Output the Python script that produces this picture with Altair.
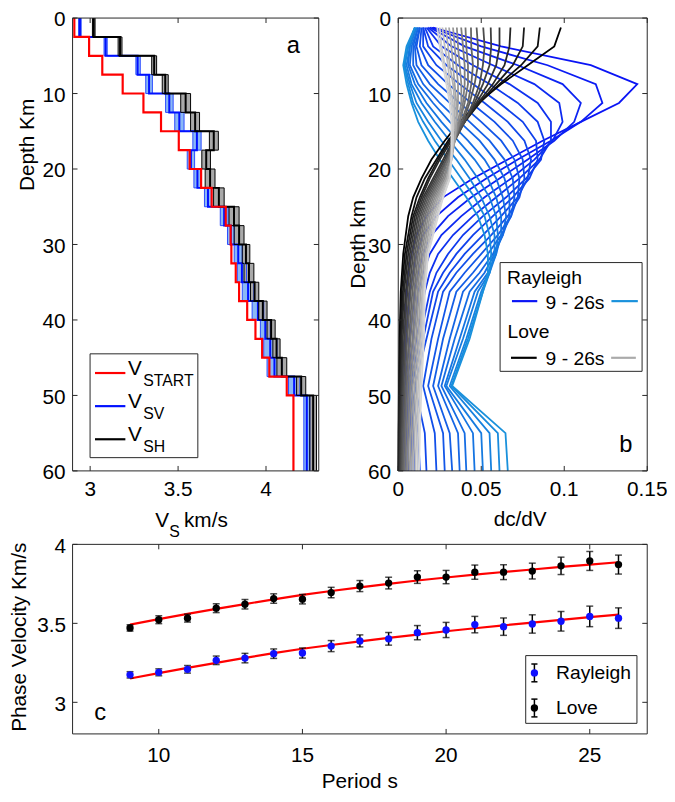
import altair as alt
import pandas as pd

FONT = "Liberation Sans"
AXC = "#262626"

# ---------------- Panel a : velocity profiles ----------------
LAYER_TOP = [0.0, 2.5, 5.0, 7.5, 10.0, 12.5, 15.0, 17.5, 20.0, 22.5, 25.0,
             27.5, 30.0, 32.5, 35.0, 37.5, 40.0, 42.5, 45.0, 47.5, 50.0]
LAYER_BOT = [2.5, 5.0, 7.5, 10.0, 12.5, 15.0, 17.5, 20.0, 22.5, 25.0, 27.5,
             30.0, 32.5, 35.0, 37.5, 40.0, 42.5, 45.0, 47.5, 50.0, 60.0]
V_START = [2.91, 2.994, 3.069, 3.185, 3.303, 3.403, 3.504, 3.566, 3.631, 3.691, 3.771,
           3.799, 3.803, 3.828, 3.847, 3.893, 3.94, 3.978, 4.019, 4.118, 4.156]
SV_MIN = [2.934, 3.079, 3.26, 3.316, 3.429, 3.481, 3.584, 3.552, 3.59, 3.65, 3.74,
          3.781, 3.819, 3.837, 3.865, 3.921, 3.968, 3.987, 4.006, 4.128, 4.215]
SV_MAX = [2.949, 3.097, 3.285, 3.354, 3.472, 3.534, 3.631, 3.594, 3.631, 3.691, 3.785,
          3.819, 3.865, 3.889, 3.931, 3.987, 4.024, 4.062, 4.09, 4.193, 4.249]
SV_BEST = [2.942, 3.088, 3.27, 3.335, 3.45, 3.507, 3.607, 3.573, 3.61, 3.67, 3.762,
           3.8, 3.842, 3.863, 3.898, 3.954, 3.996, 4.024, 4.048, 4.16, 4.232]
SH_MIN = [3.013, 3.159, 3.35, 3.41, 3.515, 3.571, 3.678, 3.635, 3.654, 3.702, 3.79,
          3.819, 3.865, 3.875, 3.912, 3.959, 4.006, 4.039, 4.062, 4.174, 4.249]
SH_MAX = [3.028, 3.181, 3.378, 3.444, 3.571, 3.622, 3.729, 3.684, 3.71, 3.762, 3.847,
          3.875, 3.908, 3.931, 3.959, 4.006, 4.052, 4.08, 4.118, 4.226, 4.287]
SH_BEST = [3.02, 3.17, 3.364, 3.427, 3.543, 3.597, 3.703, 3.66, 3.682, 3.732, 3.818,
           3.847, 3.886, 3.903, 3.935, 3.982, 4.029, 4.06, 4.09, 4.2, 4.268]

# ---------------- Panel b : sensitivity kernels ----------------
PERIODS = list(range(9, 27))
R_DEPTH = [1.25, 3.75, 6.25, 8.75, 11.25, 13.75, 16.25, 18.75, 21.25, 23.75,
           26.25, 28.75, 31.25, 33.75, 36.25, 42.5, 48.75, 55, 60]
RAYLEIGH_K = [
    [0.021, 0.062, 0.116, 0.144, 0.133, 0.110, 0.087, 0.066, 0.045, 0.027, 0.017, 0.011, 0.008, 0.006, 0.005, 0.004, 0.002, 0.003, 0.002],
    [0.020, 0.050, 0.090, 0.119, 0.123, 0.110, 0.092, 0.072, 0.053, 0.036, 0.023, 0.015, 0.011, 0.009, 0.007, 0.005, 0.003, 0.004, 0.003],
    [0.019, 0.040, 0.072, 0.099, 0.110, 0.106, 0.094, 0.078, 0.061, 0.044, 0.030, 0.020, 0.015, 0.012, 0.010, 0.007, 0.004, 0.005, 0.004],
    [0.018, 0.032, 0.057, 0.082, 0.097, 0.099, 0.093, 0.082, 0.068, 0.052, 0.038, 0.026, 0.019, 0.015, 0.012, 0.009, 0.005, 0.006, 0.006],
    [0.017, 0.026, 0.045, 0.067, 0.084, 0.092, 0.092, 0.085, 0.073, 0.059, 0.045, 0.033, 0.024, 0.019, 0.016, 0.011, 0.006, 0.008, 0.008],
    [0.016, 0.021, 0.036, 0.055, 0.072, 0.084, 0.088, 0.086, 0.077, 0.065, 0.051, 0.039, 0.030, 0.023, 0.019, 0.013, 0.007, 0.009, 0.010],
    [0.015, 0.018, 0.029, 0.045, 0.061, 0.075, 0.083, 0.084, 0.079, 0.069, 0.057, 0.045, 0.035, 0.027, 0.021, 0.015, 0.008, 0.012, 0.013],
    [0.015, 0.015, 0.023, 0.037, 0.052, 0.066, 0.076, 0.080, 0.078, 0.072, 0.062, 0.051, 0.040, 0.031, 0.024, 0.017, 0.010, 0.016, 0.017],
    [0.014, 0.013, 0.018, 0.030, 0.044, 0.058, 0.069, 0.075, 0.076, 0.073, 0.066, 0.056, 0.045, 0.035, 0.027, 0.020, 0.015, 0.022, 0.023],
    [0.013, 0.011, 0.014, 0.024, 0.037, 0.050, 0.062, 0.070, 0.073, 0.072, 0.068, 0.060, 0.050, 0.040, 0.031, 0.024, 0.018, 0.027, 0.028],
    [0.013, 0.010, 0.011, 0.019, 0.031, 0.043, 0.055, 0.064, 0.069, 0.070, 0.068, 0.062, 0.054, 0.045, 0.035, 0.027, 0.021, 0.031, 0.0325],
    [0.012, 0.009, 0.009, 0.015, 0.025, 0.037, 0.049, 0.058, 0.064, 0.067, 0.067, 0.063, 0.057, 0.049, 0.039, 0.031, 0.024, 0.036, 0.037],
    [0.012, 0.008, 0.007, 0.012, 0.021, 0.031, 0.042, 0.052, 0.059, 0.063, 0.065, 0.063, 0.058, 0.052, 0.043, 0.034, 0.026, 0.040, 0.041],
    [0.011, 0.007, 0.006, 0.010, 0.017, 0.026, 0.036, 0.046, 0.054, 0.059, 0.062, 0.062, 0.059, 0.054, 0.046, 0.037, 0.028, 0.045, 0.046],
    [0.011, 0.007, 0.005, 0.008, 0.014, 0.022, 0.031, 0.040, 0.048, 0.055, 0.059, 0.060, 0.059, 0.055, 0.048, 0.039, 0.029, 0.050, 0.051],
    [0.010, 0.006, 0.004, 0.007, 0.011, 0.018, 0.026, 0.035, 0.043, 0.050, 0.055, 0.058, 0.058, 0.055, 0.050, 0.041, 0.031, 0.055, 0.056],
    [0.010, 0.006, 0.0035, 0.006, 0.009, 0.015, 0.022, 0.030, 0.038, 0.046, 0.052, 0.055, 0.056, 0.055, 0.051, 0.042, 0.032, 0.060, 0.061],
    [0.010, 0.005, 0.003, 0.005, 0.008, 0.012, 0.018, 0.025, 0.033, 0.041, 0.048, 0.052, 0.054, 0.054, 0.051, 0.043, 0.0325, 0.0646, 0.066],
]
L_DEPTH = [1.25, 3.75, 6.25, 8.75, 11.25, 13.75, 16.25, 18.75, 21.25, 23.75,
           26.25, 31.25, 36.25, 42.5, 48.75, 55, 60]
LOVE_K = [
    [0.098, 0.094, 0.078, 0.062, 0.048, 0.037, 0.028, 0.020, 0.014, 0.009, 0.006, 0.003, 0.0015, 0.0008, 0.0004, 0.0002, 0.0001],
    [0.0853, 0.084, 0.074, 0.061, 0.049, 0.039, 0.030, 0.023, 0.016, 0.011, 0.008, 0.004, 0.002, 0.0011, 0.0006, 0.0003, 0.0002],
    [0.0758, 0.075, 0.069, 0.059, 0.049, 0.040, 0.031, 0.024, 0.018, 0.013, 0.009, 0.005, 0.0028, 0.0015, 0.0009, 0.0005, 0.0003],
    [0.0676, 0.067, 0.064, 0.057, 0.048, 0.040, 0.032, 0.025, 0.019, 0.014, 0.010, 0.006, 0.0035, 0.002, 0.0013, 0.0008, 0.0005],
    [0.061, 0.061, 0.059, 0.054, 0.047, 0.040, 0.033, 0.027, 0.021, 0.015, 0.011, 0.007, 0.0045, 0.0027, 0.0018, 0.0011, 0.0008],
    [0.0557, 0.056, 0.055, 0.051, 0.046, 0.040, 0.034, 0.028, 0.022, 0.016, 0.012, 0.008, 0.0055, 0.0035, 0.0024, 0.0016, 0.0012],
    [0.0512, 0.052, 0.051, 0.049, 0.045, 0.040, 0.034, 0.029, 0.023, 0.017, 0.013, 0.009, 0.0065, 0.0044, 0.0031, 0.0022, 0.0017],
    [0.0472, 0.048, 0.048, 0.046, 0.043, 0.039, 0.034, 0.029, 0.024, 0.018, 0.014, 0.010, 0.0075, 0.0054, 0.0039, 0.0029, 0.0023],
    [0.0438, 0.044, 0.045, 0.044, 0.042, 0.038, 0.034, 0.030, 0.025, 0.019, 0.015, 0.011, 0.0085, 0.0064, 0.0048, 0.0037, 0.003],
    [0.0405, 0.041, 0.042, 0.042, 0.040, 0.037, 0.034, 0.030, 0.026, 0.020, 0.016, 0.012, 0.0095, 0.0074, 0.0057, 0.0046, 0.0038],
    [0.0379, 0.039, 0.040, 0.040, 0.039, 0.037, 0.034, 0.031, 0.027, 0.021, 0.017, 0.013, 0.0105, 0.0085, 0.0067, 0.0056, 0.0047],
    [0.0353, 0.036, 0.037, 0.038, 0.038, 0.036, 0.034, 0.031, 0.028, 0.022, 0.018, 0.014, 0.0115, 0.0095, 0.0077, 0.0066, 0.0057],
    [0.033, 0.034, 0.035, 0.036, 0.036, 0.035, 0.034, 0.032, 0.029, 0.023, 0.019, 0.015, 0.0125, 0.0106, 0.0088, 0.0077, 0.0068],
    [0.0306, 0.032, 0.033, 0.034, 0.035, 0.035, 0.034, 0.032, 0.029, 0.024, 0.020, 0.016, 0.0135, 0.0117, 0.0099, 0.0088, 0.0079],
    [0.0286, 0.030, 0.031, 0.033, 0.034, 0.034, 0.033, 0.032, 0.030, 0.025, 0.021, 0.017, 0.0145, 0.0127, 0.011, 0.0099, 0.009],
    [0.0266, 0.028, 0.030, 0.031, 0.033, 0.033, 0.033, 0.032, 0.030, 0.026, 0.022, 0.017, 0.015, 0.0137, 0.012, 0.011, 0.0102],
    [0.025, 0.026, 0.028, 0.030, 0.032, 0.033, 0.033, 0.032, 0.031, 0.027, 0.023, 0.018, 0.0155, 0.0146, 0.013, 0.012, 0.0114],
    [0.0235, 0.025, 0.027, 0.029, 0.031, 0.032, 0.032, 0.032, 0.031, 0.027, 0.024, 0.018, 0.016, 0.0155, 0.014, 0.013, 0.0125],
]

# ---------------- Panel c : dispersion ----------------
PERIOD_C = list(range(9, 27))
RAY_OBS = [3.174, 3.19, 3.209, 3.266, 3.28, 3.308, 3.312, 3.356, 3.389, 3.402, 3.441,
           3.458, 3.492, 3.479, 3.496, 3.513, 3.544, 3.533]
RAY_ERR = [0.02, 0.022, 0.024, 0.027, 0.03, 0.03, 0.032, 0.035, 0.038, 0.04, 0.045,
           0.048, 0.052, 0.055, 0.058, 0.062, 0.065, 0.065]
RAY_FIT = [3.151, 3.185, 3.218, 3.25, 3.281, 3.311, 3.339, 3.363, 3.386, 3.408, 3.429,
           3.45, 3.469, 3.487, 3.505, 3.522, 3.539, 3.555]
LOVE_OBS = [3.471, 3.523, 3.533, 3.596, 3.621, 3.657, 3.653, 3.695, 3.736, 3.755, 3.793,
            3.793, 3.824, 3.824, 3.831, 3.864, 3.895, 3.872]
LOVE_ERR = [0.02, 0.025, 0.025, 0.028, 0.03, 0.03, 0.03, 0.033, 0.035, 0.037, 0.04,
            0.042, 0.045, 0.047, 0.05, 0.055, 0.06, 0.06]
LOVE_FIT = [3.492, 3.527, 3.56, 3.592, 3.622, 3.652, 3.68, 3.705, 3.728, 3.75, 3.771,
            3.79, 3.808, 3.825, 3.841, 3.857, 3.872, 3.887]

# tick labels
XA_TICKS, XA_LABELS = [3, 3.5, 4], ["3", "3.5", "4"]
XB_TICKS, XB_LABELS = [0, 0.05, 0.1, 0.15], ["0", "0.05", "0.1", "0.15"]
D_TICKS, D_LABELS = [0, 10, 20, 30, 40, 50, 60], ["0", "10", "20", "30", "40", "50", "60"]
XC_TICKS, XC_LABELS = [10, 15, 20, 25], ["10", "15", "20", "25"]
YC_TICKS, YC_LABELS = [3, 3.5, 4], ["3", "3.5", "4"]

# ---------------- geometry (pixels inside the drawing area) ----------------
OY = -2.3           # vertical shift of the drawing origin
A_X0, A_X1 = 0, 249
B_X0, B_X1 = 329.4, 581.2
C_X0, C_X1 = 0, 581.2
TOP_Y0, TOP_Y1 = 0, 458
C_Y0, C_Y1 = 532.3, 724
TICK_FS = 21
TL = 5

S_XA = alt.Scale(domain=[2.9, 4.3], range=[A_X0, A_X1], nice=False, zero=False)
S_XB = alt.Scale(domain=[0, 0.15], range=[B_X0, B_X1], nice=False, zero=False)
S_D = alt.Scale(domain=[0, 60], range=[TOP_Y0 + OY, TOP_Y1 + OY], nice=False, zero=False)
S_XC = alt.Scale(domain=[7, 27], range=[C_X0, C_X1], nice=False, zero=False)
S_YC = alt.Scale(domain=[2.8, 4.0], range=[C_Y1 + OY, C_Y0 + OY], nice=False, zero=False)


def X(s, f):
    return alt.X(f + ":Q", scale=s, axis=None)


def Y(s, f):
    return alt.Y(f + ":Q", scale=s, axis=None)


def mix(c1, c2, t):
    return "#%02x%02x%02x" % tuple(round(a + (b - a) * t) for a, b in zip(c1, c2))


RAY_COLORS = [mix((10, 20, 245), (25, 145, 220), i / 17) for i in range(18)]
LOVE_COLORS = [mix((0, 0, 0), (215, 215, 215), i / 17) for i in range(18)]


def one():
    return pd.DataFrame({"k": [0]})


def txt(text, x, y, size=21, angle=0, align="center", baseline="middle", color="black"):
    return alt.Chart(pd.DataFrame({"t": [text]})).mark_text(
        font=FONT, fontSize=size, angle=angle, align=align, baseline=baseline, color=color
    ).encode(x=alt.value(x), y=alt.value(y + OY), text="t:N")


def hline(x1, x2, y, color, width=2.0):
    return alt.Chart(one()).mark_rule(color=color, strokeWidth=width).encode(
        x=alt.value(x1), x2=alt.value(x2), y=alt.value(y + OY))


def vline(x, y1, y2, color, width=1.5):
    return alt.Chart(one()).mark_rule(color=color, strokeWidth=width).encode(
        x=alt.value(x), y=alt.value(y1 + OY), y2=alt.value(y2 + OY))


def box(x1, x2, y1, y2, fill=True):
    m = alt.Chart(one()).mark_rect(fill="white", stroke=AXC, strokeWidth=1) if fill else \
        alt.Chart(one()).mark_rect(fillOpacity=0, stroke=AXC, strokeWidth=1)
    return m.encode(x=alt.value(x1), x2=alt.value(x2),
                    y=alt.value(y1 + OY), y2=alt.value(y2 + OY))


def dot(x, y, color):
    return alt.Chart(one()).mark_circle(size=55, opacity=1, color=color).encode(
        x=alt.value(x), y=alt.value(y + OY))


def frame(sx, sy, xt, yt, x0, x1, y0, y1):
    tx = alt.Chart(pd.DataFrame({"t": xt})).mark_rule(color=AXC, strokeWidth=1)
    ty = alt.Chart(pd.DataFrame({"t": yt})).mark_rule(color=AXC, strokeWidth=1)
    return [
        tx.encode(x=X(sx, "t"), y=alt.value(y1 + OY), y2=alt.value(y1 + OY - TL)),
        tx.encode(x=X(sx, "t"), y=alt.value(y0 + OY), y2=alt.value(y0 + OY + TL)),
        ty.encode(y=Y(sy, "t"), x=alt.value(x0), x2=alt.value(x0 + TL)),
        ty.encode(y=Y(sy, "t"), x=alt.value(x1 - TL), x2=alt.value(x1)),
        box(x0, x1, y0, y1, fill=False),
    ]


def xlabels(s, vals, labels, y):
    return alt.Chart(pd.DataFrame({"v": vals, "s": labels})).mark_text(
        font=FONT, fontSize=TICK_FS, baseline="middle", align="center", color="black"
    ).encode(x=X(s, "v"), y=alt.value(y + OY), text="s:N")


def ylabels(s, vals, labels, x):
    return alt.Chart(pd.DataFrame({"v": vals, "s": labels})).mark_text(
        font=FONT, fontSize=TICK_FS, baseline="middle", align="right", color="black", dy=2.5
    ).encode(y=Y(s, "v"), x=alt.value(x), text="s:N")


layers = []

# ---------------- Panel a ----------------
band_df = pd.DataFrame({"top": LAYER_TOP, "bot": LAYER_BOT,
                        "svmin": SV_MIN, "svmax": SV_MAX,
                        "shmin": SH_MIN, "shmax": SH_MAX})


def step_df(vals):
    rows = []
    for i, v in enumerate(vals):
        rows.append({"v": v, "d": LAYER_TOP[i], "o": 2 * i})
        rows.append({"v": v, "d": LAYER_BOT[i], "o": 2 * i + 1})
    return pd.DataFrame(rows)


def step_line(vals, color, width):
    return alt.Chart(step_df(vals)).mark_line(color=color, strokeWidth=width).encode(
        x=X(S_XA, "v"), y=Y(S_D, "d"), order="o:Q")


layers += [
    alt.Chart(band_df).mark_rect(color="#8bb8f5").encode(
        x=X(S_XA, "svmin"), x2="svmax", y=Y(S_D, "top"), y2="bot"),
    alt.Chart(band_df).mark_rect(color="#a9a9a9").encode(
        x=X(S_XA, "shmin"), x2="shmax", y=Y(S_D, "top"), y2="bot"),
    step_line(SV_MIN, "#2a4cff", 1),
    step_line(SV_MAX, "#2a4cff", 1),
    step_line(SV_BEST, "#0010ff", 2),
    step_line(SH_MIN, "#000000", 1),
    step_line(SH_MAX, "#000000", 1),
    step_line(SH_BEST, "#000000", 2),
    step_line(V_START, "#ff0000", 2.2),
]

# ---------------- Panel b ----------------
r_rows = []
for p, ks in zip(PERIODS, RAYLEIGH_K):
    for d, k in zip(R_DEPTH, ks):
        r_rows.append({"rp": p, "d": d, "k": k})
l_rows = []
for p, ks in zip(PERIODS, LOVE_K):
    for d, k in zip(L_DEPTH, ks):
        l_rows.append({"lp": p, "d": d, "k": k})

layers += [
    alt.Chart(pd.DataFrame(r_rows)).mark_line(strokeWidth=1.8).encode(
        x=X(S_XB, "k"), y=Y(S_D, "d"),
        color=alt.Color("rp:O", scale=alt.Scale(domain=PERIODS, range=RAY_COLORS), legend=None),
        order="d:Q"),
    alt.Chart(pd.DataFrame(l_rows)).mark_line(strokeWidth=1.8).encode(
        x=X(S_XB, "k"), y=Y(S_D, "d"),
        color=alt.Color("lp:O", scale=alt.Scale(domain=PERIODS, range=LOVE_COLORS), legend=None),
        order="d:Q"),
]

# ---------------- Panel c ----------------
cdf = pd.DataFrame({
    "p": PERIOD_C,
    "r": RAY_OBS, "rlo": [a - b for a, b in zip(RAY_OBS, RAY_ERR)],
    "rhi": [a + b for a, b in zip(RAY_OBS, RAY_ERR)], "rfit": RAY_FIT,
    "l": LOVE_OBS, "llo": [a - b for a, b in zip(LOVE_OBS, LOVE_ERR)],
    "lhi": [a + b for a, b in zip(LOVE_OBS, LOVE_ERR)], "lfit": LOVE_FIT,
})
cb = alt.Chart(cdf)
layers += [
    cb.mark_line(color="#ff0000", strokeWidth=2.2).encode(x=X(S_XC, "p"), y=Y(S_YC, "rfit")),
    cb.mark_line(color="#ff0000", strokeWidth=2.2).encode(x=X(S_XC, "p"), y=Y(S_YC, "lfit")),
    cb.mark_rule(color="black", strokeWidth=1.5).encode(x=X(S_XC, "p"), y=Y(S_YC, "rlo"), y2="rhi"),
    cb.mark_rule(color="black", strokeWidth=1.5).encode(x=X(S_XC, "p"), y=Y(S_YC, "llo"), y2="lhi"),
]
for f in ["rlo", "rhi", "llo", "lhi"]:
    layers.append(cb.mark_tick(orient="horizontal", size=7, thickness=1.5, color="black")
                  .encode(x=X(S_XC, "p"), y=Y(S_YC, f)))
layers += [
    cb.mark_circle(size=55, opacity=1, color="#1010ff").encode(x=X(S_XC, "p"), y=Y(S_YC, "r")),
    cb.mark_circle(size=55, opacity=1, color="#000000").encode(x=X(S_XC, "p"), y=Y(S_YC, "l")),
]

# ---------------- frames, ticks, tick labels ----------------
layers += frame(S_XA, S_D, XA_TICKS, D_TICKS, A_X0, A_X1, TOP_Y0, TOP_Y1)
layers += frame(S_XB, S_D, XB_TICKS, D_TICKS, B_X0, B_X1, TOP_Y0, TOP_Y1)
layers += frame(S_XC, S_YC, XC_TICKS, YC_TICKS, C_X0, C_X1, C_Y0, C_Y1)
layers += [
    xlabels(S_XA, XA_TICKS, XA_LABELS, 477.1),
    xlabels(S_XB, XB_TICKS, XB_LABELS, 477.1),
    xlabels(S_XC, XC_TICKS, XC_LABELS, 746.3),
    ylabels(S_D, D_TICKS, D_LABELS, -7),
    ylabels(S_D, D_TICKS, D_LABELS, 322.2),
    ylabels(S_YC, YC_TICKS, YC_LABELS, -6.6),
]

# ---------------- legends and titles ----------------
layers += [
    # panel a legend
    box(17.7, 126.7, 339.6, 444.6),
    hline(22.7, 53.4, 359, "#ff0000", 2.2),
    hline(22.7, 53.4, 392.5, "#0010ff", 2.2),
    hline(22.7, 53.4, 426, "#000000", 2.2),
    txt("V", 56, 361, size=21, align="left", baseline="alphabetic"),
    txt("START", 71.5, 372, size=16, align="left", baseline="alphabetic"),
    txt("V", 56, 394.5, size=21, align="left", baseline="alphabetic"),
    txt("SV", 71.5, 405.5, size=16, align="left", baseline="alphabetic"),
    txt("V", 56, 428, size=21, align="left", baseline="alphabetic"),
    txt("SH", 71.5, 439, size=16, align="left", baseline="alphabetic"),
    # panel b legend
    box(432.4, 576, 247.3, 357.3),
    txt("Rayleigh", 439.4, 263, size=19.5, align="left"),
    hline(444.4, 470, 286.3, RAY_COLORS[0], 2.2),
    txt("9 - 26s", 478.4, 288, size=19.5, align="left"),
    hline(545, 571.7, 286.3, RAY_COLORS[-1], 2.2),
    txt("Love", 440, 318, size=19.5, align="left"),
    hline(443.4, 469.4, 343.6, LOVE_COLORS[0], 2.2),
    txt("9 - 26s", 478.4, 345.3, size=19.5, align="left"),
    hline(544.7, 569.7, 343.6, "#aaaaaa", 2.2),
    # panel c legend
    box(458.3, 570.8, 644.8, 713.3),
    vline(467.1, 653.3, 671.3, "black"),
    hline(464, 470.2, 653.3, "black", 1.5),
    hline(464, 470.2, 671.3, "black", 1.5),
    dot(467.1, 662.3, "#1010ff"),
    txt("Rayleigh", 489, 662.3, size=19.5, align="left"),
    vline(467.1, 688.8, 706.8, "black"),
    hline(464, 470.2, 688.8, "black", 1.5),
    hline(464, 470.2, 706.8, "black", 1.5),
    dot(467.1, 697.8, "#000000"),
    txt("Love", 489, 697.8, size=19.5, align="left"),
    # axis titles
    txt("Depth Km", -45.3, 128.3, angle=270),
    txt("Depth km", 289.7, 229, angle=270),
    txt("V", 83.7, 514.8, size=21, align="left", baseline="alphabetic"),
    txt("S", 97.7, 525, size=16, align="left", baseline="alphabetic"),
    txt("km/s", 112.7, 514.8, size=21, align="left", baseline="alphabetic"),
    txt("dc/dV", 452.7, 507.3),
    txt("Period s", 290.4, 773.1),
    txt("Phase Velocity Km/s", -52.6, 626.3, angle=270),
    # panel letters
    txt("a", 223.4, 28.3, size=24),
    txt("b", 559.7, 432.3, size=24),
    txt("c", 28, 702.9, size=24),
]

chart = alt.layer(*layers).resolve_scale(
    x="independent", y="independent", color="independent"
).properties(
    width=581.2, height=724,
    autosize=alt.AutoSizeParams(type="none"),
    padding={"left": 65.3, "top": 8, "right": 20, "bottom": 54},
).configure_view(stroke=None)

chart.save("out.html", embed_options={"renderer": "svg", "actions": False})
